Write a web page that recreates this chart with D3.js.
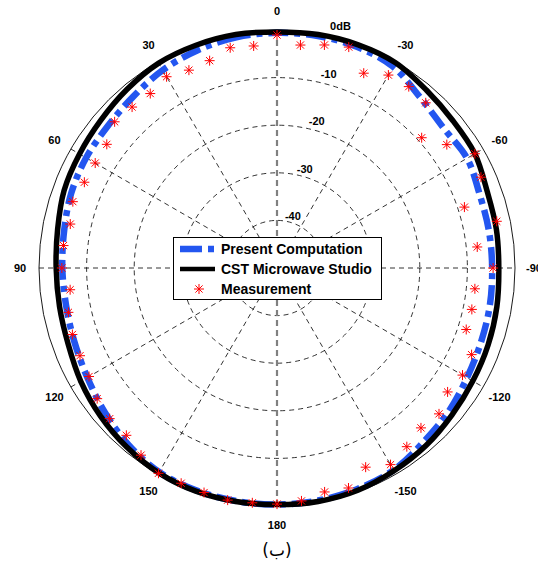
<!DOCTYPE html>
<html>
<head>
<meta charset="utf-8">
<script src="https://cdn.jsdelivr.net/npm/d3@7"></script>
<style>
  body { margin: 0; background: #fff; }
  text { font-family: "Liberation Sans", Arial, sans-serif; }
</style>
</head>
<body>
<svg id="chart" width="538" height="564"></svg>
<script>
// Angular tick labels (degrees, counter-clockwise from the top)
const angleTicks = [0, 30, 60, 90, 120, 150, 180, -150, -120, -90, -60, -30];
// Spokes drawn as full diameters
const spokeAngles = [0, 30, 60, 90, 120, 150];
// Radial rings (dB) and their labels
const ringLevels = [-40, -30, -20, -10, 0];
const ringLabels = ["-40", "-30", "-20", "-10", "0dB"];

// Simulated patterns sampled every 10 degrees
const curveAngles = [0, 10, 20, 30, 40, 50, 60, 70, 80, 90, 100, 110, 120, 130, 140, 150, 160, 170, 180,
                     -170, -160, -150, -140, -130, -120, -110, -100, -90, -80, -70, -60, -50, -40, -30, -20, -10];
const presentDb = [-0.6, -0.8, -1.3, -2.0, -3.0, -3.6, -3.7, -4.0, -4.6, -4.9, -5.0, -4.7, -4.0, -2.8, -1.5, -0.5, -0.3, -0.3, -0.3,
                   -0.4, -0.6, -1.0, -2.2, -3.0, -3.9, -4.4, -4.6, -4.8, -4.8, -4.7, -3.9, -4.3, -3.2, -1.2, -0.6, -0.5];
const cstDb = [-0.4, -0.2, -0.2, -0.3, -1.0, -1.7, -2.1, -2.4, -3.2, -3.6, -3.6, -3.3, -2.4, -1.6, -0.9, -0.3, -0.1, -0.2, -0.3,
               -0.2, -0.3, -0.8, -1.3, -2.0, -2.5, -2.8, -3.1, -3.4, -3.2, -3.0, -2.0, -1.8, -1.2, -0.2, -0.1, -0.2];

// Measured points every 6 degrees
const measAngles = [0, 6, 12, 18, 24, 30, 36, 42, 48, 54, 60, 66, 72, 78, 84, 90, 96, 102, 108, 114, 120, 126, 132, 138, 144, 150,
                    156, 162, 168, 174, 180, -174, -168, -162, -156, -150, -144, -138, -132, -126, -120, -114, -108, -102, -96,
                    -90, -84, -78, -72, -66, -60, -54, -48, -42, -36, -30, -24, -18, -12, -6];
const measDb = [-1.05, -3.1, -2.7, -4.2, -4.5, -3.6, -4.7, -4.5, -4.1, -5.8, -5.9, -5.7, -4.9, -5.6, -4.9, -4.8, -6.3, -5.2, -4.8,
                -4.7, -4.4, -3.3, -2.7, -2.7, -1.4, -0.2, -0.5, -0.4, -0.15, -0.4, -0.4, -0.8, -1.9, -1.4, -4.2, -2.3, -3.6,
                -4.8, -4.2, -5.7, -5.0, -5.25, -8.2, -8.15, -8.2, -4.6, -7.7, -2.8, -8.6, -3.1, -2.0, -5.9, -9.1, -3.3, -2.9,
                -3.2, -5.2, -1.2, -2.1, -2.9];

const legendItems = ["Present Computation", "CST Microwave Studio", "Measurement"];
const caption = "(ب)";

const CX = 277, CY = 268, R = 238;
const BLUE = "#2356f0";

const svg = d3.select("#chart");
const rScale = d3.scaleLinear().domain([-50, 0]).range([0, R]);
const toRad = deg => -deg * Math.PI / 180;
const polar = (deg, rr) => [-rr * Math.sin(deg * Math.PI / 180), -rr * Math.cos(deg * Math.PI / 180)];

const g = svg.append("g").attr("transform", `translate(${CX},${CY})`);

// Rings: dashed inside, solid outer boundary
g.selectAll("circle.ring").data(ringLevels).join("circle")
  .attr("class", "ring")
  .attr("r", d => rScale(d))
  .attr("fill", "none")
  .attr("stroke", "#000")
  .attr("stroke-width", d => d === 0 ? 0.9 : 0.8)
  .attr("stroke-dasharray", d => d === 0 ? null : "5,4");

// Spokes
g.selectAll("line.spoke").data(spokeAngles).join("line")
  .attr("class", "spoke")
  .attr("x1", d => polar(d, R)[0]).attr("y1", d => polar(d, R)[1])
  .attr("x2", d => polar(d + 180, R)[0]).attr("y2", d => polar(d + 180, R)[1])
  .attr("stroke", d => d === 0 ? "#808080" : "#000")
  .attr("stroke-width", d => d === 0 ? 2.2 : 0.8)
  .attr("stroke-dasharray", d => d === 0 ? "6,4" : "5,4");

// Angle labels
g.selectAll("text.ang").data(angleTicks).join("text")
  .attr("class", "ang")
  .attr("x", d => polar(d, 257)[0])
  .attr("y", d => polar(d, 257)[1])
  .attr("text-anchor", "middle")
  .attr("dominant-baseline", "central")
  .attr("font-size", 11).attr("font-weight", "bold")
  .text(d => d);

// Ring labels
g.selectAll("text.ringlab").data(ringLevels).join("text")
  .attr("class", "ringlab")
  .attr("x", d => 0.25 * rScale(d) + 4)
  .attr("y", d => -rScale(d) - 4)
  .attr("text-anchor", "middle")
  .attr("dominant-baseline", "central")
  .attr("font-size", 11).attr("font-weight", "bold")
  .text((d, i) => ringLabels[i]);

const radial = d3.lineRadial()
  .angle(d => toRad(d[0]))
  .radius(d => rScale(d[1]))
  .curve(d3.curveCatmullRomClosed.alpha(0.5));

// Present computation (thick dash-dot blue)
g.append("path")
  .datum(curveAngles.map((a, i) => [a, presentDb[i]]))
  .attr("d", radial)
  .attr("fill", "none")
  .attr("stroke", BLUE)
  .attr("stroke-width", 6.5)
  .attr("stroke-dasharray", "20,6,6,6");

// CST Microwave Studio (thick black)
g.append("path")
  .datum(curveAngles.map((a, i) => [a, cstDb[i]]))
  .attr("d", radial)
  .attr("fill", "none")
  .attr("stroke", "#000")
  .attr("stroke-width", 5.5);

// Measurement asterisks
const starPath = "M-5,0H5M0,-5V5M-3.6,-3.6L3.6,3.6M-3.6,3.6L3.6,-3.6";
g.selectAll("path.meas").data(measAngles.map((a, i) => [a, measDb[i]])).join("path")
  .attr("class", "meas")
  .attr("transform", d => { const p = polar(d[0], rScale(d[1])); return `translate(${p[0]},${p[1]})`; })
  .attr("d", starPath)
  .attr("fill", "none")
  .attr("stroke", "#ff0000")
  .attr("stroke-width", 1);

// Legend
const lg = svg.append("g");
lg.append("rect")
  .attr("x", 173.5).attr("y", 237.5).attr("width", 208).attr("height", 62)
  .attr("fill", "#fff").attr("stroke", "#000").attr("stroke-width", 1);
const rowY = [249, 269, 289];
lg.append("line").attr("x1", 180).attr("x2", 214).attr("y1", rowY[0]).attr("y2", rowY[0])
  .attr("stroke", BLUE).attr("stroke-width", 6.5).attr("stroke-dasharray", "22,6,6");
lg.append("line").attr("x1", 180).attr("x2", 215).attr("y1", rowY[1]).attr("y2", rowY[1])
  .attr("stroke", "#000").attr("stroke-width", 4.5);
lg.append("path").attr("transform", `translate(199,${rowY[2]})`).attr("d", starPath)
  .attr("fill", "none").attr("stroke", "#ff0000").attr("stroke-width", 1);
lg.selectAll("text").data(legendItems).join("text")
  .attr("x", 221).attr("y", (d, i) => rowY[i])
  .attr("dominant-baseline", "central")
  .attr("font-size", 14).attr("font-weight", "bold")
  .text(d => d);

// Caption
svg.append("text")
  .attr("x", 277).attr("y", 550)
  .attr("text-anchor", "middle").attr("dominant-baseline", "central")
  .style("font-family", "'DejaVu Sans', sans-serif")
  .attr("font-size", 17)
  .text(caption);
</script>
</body>
</html>
